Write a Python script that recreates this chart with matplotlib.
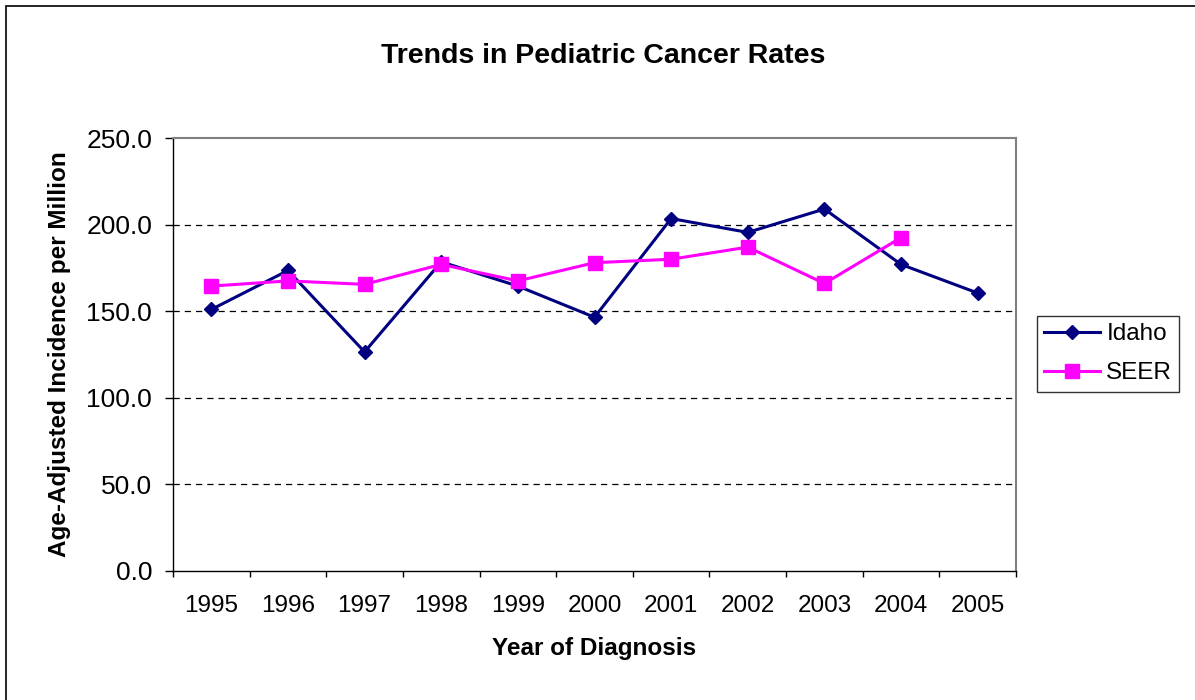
import matplotlib
matplotlib.use("Agg")
import matplotlib.pyplot as plt
from matplotlib.patches import Rectangle
import numpy as np

# Data
years = ['1995', '1996', '1997', '1998', '1999', '2000', '2001', '2002', '2003', '2004', '2005']
idaho = [151.0, 173.5, 126.5, 178.5, 164.5, 146.5, 203.5, 195.5, 209.0, 177.0, 160.5]
seer = [164.5, 167.5, 165.5, 177.0, 167.5, 178.0, 180.0, 187.0, 166.0, 192.5, np.nan]

plt.rcParams['font.family'] = ['Liberation Sans', 'DejaVu Sans']

fig = plt.figure(figsize=(11.95, 7.0), dpi=100)

# outer chart frame (Excel style), only left/top edges visible in the crop
fig.patches.append(Rectangle((6 / 1195, -0.05), 1.1, 1.05 - 6 / 700,
                             transform=fig.transFigure, fill=False,
                             edgecolor='black', linewidth=1.2))

ax = fig.add_axes([173 / 1195, 129 / 700, 843 / 1195, 433 / 700])

x = np.arange(len(years))
ax.plot(x, idaho, color='#000080', lw=2.2, marker='D', markersize=7.6,
        label='Idaho', zorder=3)
ax.plot(x, seer, color='#FF00FF', lw=2.2, marker='s', markersize=10,
        label='SEER', zorder=4)

ax.set_xlim(-0.5, len(years) - 0.5)
ax.set_ylim(0, 250)
ax.set_yticks(np.arange(0, 251, 50))
ax.set_yticklabels(['%.1f' % v for v in np.arange(0, 251, 50)], fontsize=19)
ax.set_xticks(x)
ax.set_xticklabels(years, fontsize=17.5)
ax.set_xticks(np.arange(-0.5, len(years), 1), minor=True)
ax.tick_params(axis='x', which='major', length=0, pad=17)
ax.tick_params(axis='x', which='minor', length=4.5, width=1, direction='out')
ax.tick_params(axis='y', length=6, width=1, direction='out', pad=9)

for v in [50, 100, 150, 200]:
    ax.axhline(v, color='black', lw=0.9, ls=(0, (5, 4)), zorder=1)

for side in ['top', 'right']:
    ax.spines[side].set_color('#808080')
    ax.spines[side].set_linewidth(1.5)
for side in ['left', 'bottom']:
    ax.spines[side].set_color('black')
    ax.spines[side].set_linewidth(1.0)

ax.set_xlabel('Year of Diagnosis', fontsize=17.5, fontweight='bold')
ax.xaxis.set_label_coords(0.5, (571 - 648) / 433)
ax.xaxis.label.set_va('center')
ax.set_ylabel('Age-Adjusted Incidence per Million', fontsize=17.5,
              fontweight='bold')
ax.yaxis.set_label_coords((60 - 173) / 843, 0.5)
ax.yaxis.label.set_va('center')

fig.text(603 / 1195, 1 - 56 / 700, 'Trends in Pediatric Cancer Rates',
         ha='center', va='center', fontsize=20.5, fontweight='bold')

leg = fig.legend(loc='upper left', bbox_to_anchor=(1037 / 1195, 1 - 316 / 700),
                 fontsize=17.5, frameon=True, fancybox=False, borderpad=0.3,
                 handlelength=2.3, handletextpad=0.25, labelspacing=0.7,
                 borderaxespad=0)
leg.get_frame().set_edgecolor('black')
leg.get_frame().set_linewidth(1.0)

fig.savefig('out.png', dpi=100)
